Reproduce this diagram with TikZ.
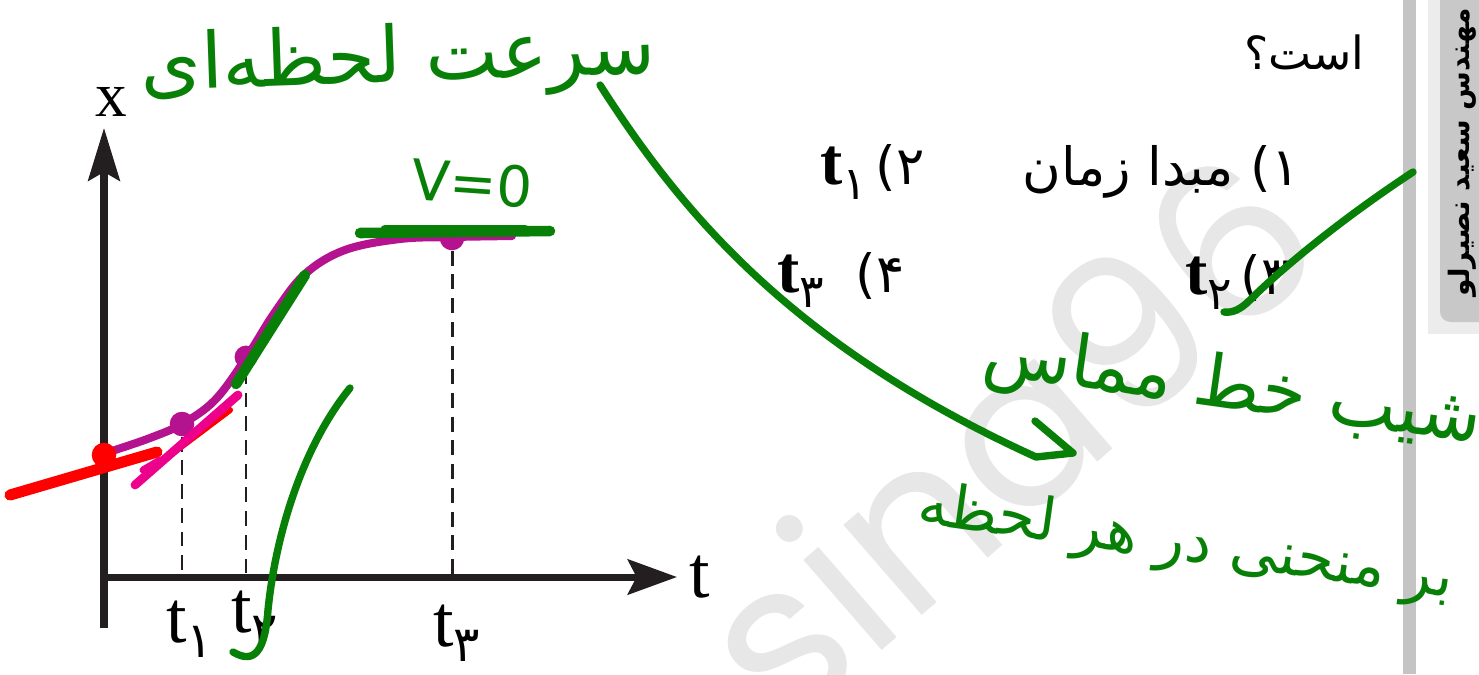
\documentclass[tikz,border=0pt]{standalone}
\usepackage{fontspec}
\usepackage{tikz}
\usetikzlibrary{arrows.meta, positioning, calc}
\setmainfont{Liberation Serif}
\newfontfamily\fa[Script=Arabic]{DejaVu Sans}
\newfontfamily\wmfont{Poppins}
\TeXXeTstate=1
\definecolor{axisblack}{RGB}{35,31,32}
\definecolor{curve1}{RGB}{181,18,143}
\definecolor{pen1}{RGB}{8,128,8}
\definecolor{wmgray}{RGB}{231,231,231}
\definecolor{bargray}{RGB}{196,196,196}
\definecolor{tabgray}{RGB}{200,200,200}
\definecolor{tabouter}{RGB}{236,236,236}
\newcommand{\axisT}[1]{t\raisebox{-9pt}{\fa\fontsize{28}{30}\selectfont #1}}
\newcommand{\optT}[1]{{\rmfamily\bfseries\fontsize{38}{40}\selectfont t}\raisebox{-8pt}{\fa\fontsize{26}{28}\selectfont #1}}

\begin{document}
\begin{tikzpicture}[x=0.02cm, y=-0.02cm,
  axis/.style={draw=axisblack, line width=4pt},
  guide/.style={draw=axisblack, line width=1.7pt, dash pattern=on 8.5pt off 5pt},
  dot/.style={circle, fill=curve1, inner sep=0pt, minimum size=14pt},
  pen/.style={draw=pen1, line width=4.2pt, line cap=round, line join=round},
  hand/.style={text=pen1, font=\fa\fontsize{44}{50}\selectfont, inner sep=0pt},
  ans/.style={text=black, font=\fa\fontsize{30}{36}\selectfont, inner sep=0pt},
  lbl/.style={font=\fontsize{42}{48}\selectfont, inner sep=0pt}]
\useasboundingbox (0,0) rectangle (1479,674);
\clip (0,0) rectangle (1479,674);

% watermark
\node[text=wmgray, font=\wmfont\fontsize{124}{126}\selectfont, rotate=41] (wmark) at (1005,435) {sina96};

% side bar and tab
\fill[bargray] (1403,0) rectangle (1416,674);
\fill[tabouter] (1428,-10) rectangle (1490,334);
\fill[tabgray, rounded corners=6pt] (1440,-10) rectangle (1500,322);
\node[rotate=90, font=\fa\bfseries\fontsize{16}{20}\selectfont] (author) at (1462,152) {\beginR مهندس سعید نصیرلو\endR};

% axes
\coordinate (O) at (104,577);
\coordinate (ytop) at (104,128);
\coordinate (ybot) at (104,628);
\coordinate (xend) at (677,577);
\draw[axis, -{Stealth[length=30pt, width=18pt, inset=5pt]}] (ybot) -- (ytop);
\draw[axis, -{Stealth[length=28pt, width=20pt, inset=5pt]}] (O) -- (xend);
\node[lbl, font=\fontsize{36}{40}\selectfont, anchor=base] (xlab) at (111,116) {x};
\node[lbl, anchor=base] (tlab) at (700,597) {t};

% x(t) curve
\draw[curve1, line width=4.6pt, line cap=round] plot[smooth, tension=0.6] coordinates
  {(115,450) (150,438) (182,424) (215,400) (246,358) (275,312) (305,274) (345,250) (400,239) (452,237) (512,236)};
\node[dot] (p1) at (182,424) {};
\node[dot, minimum size=13pt] (p2) at (246,357) {};
\node[dot] (p3) at (452,238) {};

% guides and ticks
\draw[guide] (p1) -- (p1 |- O);
\draw[guide] (p2) -- (p2 |- O);
\draw[guide] (p3) -- (p3 |- O);
\node[lbl, anchor=base west] (t1lab) at (166,642) {\axisT{۱}};
\node[lbl, anchor=base west] (t2lab) at (231,632) {\axisT{۲}};
\node[lbl, anchor=base west] (t3lab) at (433,646) {\axisT{۳}};

% tangents
\draw[red, line width=6.3pt, line cap=round] (10,495) -- (157,452);
\draw[red, line width=3.5pt, line cap=round] (157,465) -- (230,410);
\node[dot, fill=red] (p0) at (104,455) {};
\draw[magenta, line width=5pt, line cap=round] (135,485) -- (238,395);
\draw[magenta, line width=4pt, line cap=round] (143,470) -- (160,460);
\draw[pen1, line width=6pt, line cap=round] (236,384) -- (305,275);
\draw[pen1, line width=6pt, line cap=round] (360,233) -- (550,231);
\draw[pen1, line width=5pt, line cap=round] (385,229) -- (525,229);
\node[hand, font=\fa\fontsize{32}{36}\selectfont, rotate=-4] (vzero) at (472,183) {V=0};

% question text
\node[ans, font=\fa\fontsize{26}{30}\selectfont, anchor=east] (quest) at (1365,52) {\beginR است؟\endR};
\node[ans, anchor=east] (opt1) at (1300,172) {\beginR ۱) مبدا زمان\endR};
\node[ans, anchor=east] (opt2) at (925,172) {\optT{۱}\,۲)};
\node[ans, anchor=east] (opt3) at (1290,282) {\optT{۲}\,۳)};
\node[ans, anchor=east] (opt4) at (905,280) {\optT{۳}\hspace{18pt}۴)};

% handwritten notes
\node[hand, rotate=2] (velo) at (398,62) {\beginR سرعت لحظه‌ای\endR};
\node[hand, font=\fa\fontsize{41}{46}\selectfont, rotate=-8] (slope1) at (1232,390) {\beginR شیب خط مماس\endR};
\node[hand, font=\fa\fontsize{34}{40}\selectfont, rotate=-8] (slope2) at (1186,545) {\beginR بر منحنی در هر لحظه\endR};
\coordinate (penA) at (600,85);
\coordinate (penB) at (1036,457);
\draw[pen] (penA) .. controls (680,210) and (790,345) .. (penB) -- (1073,453) -- (1035,421);
\coordinate (tickA) at (1413,172);
\coordinate (tickB) at (1224,312);
\draw[pen] (tickA) .. controls (1340,220) and (1280,270) .. (1250,300) .. controls (1240,310) and (1232,313) .. (tickB);
\coordinate (hookA) at (350,388);
\coordinate (hookB) at (233,652);
\draw[pen] (hookA) .. controls (300,450) and (275,540) .. (268,610) .. controls (265,650) and (255,665) .. (hookB);
\end{tikzpicture}
\end{document}
